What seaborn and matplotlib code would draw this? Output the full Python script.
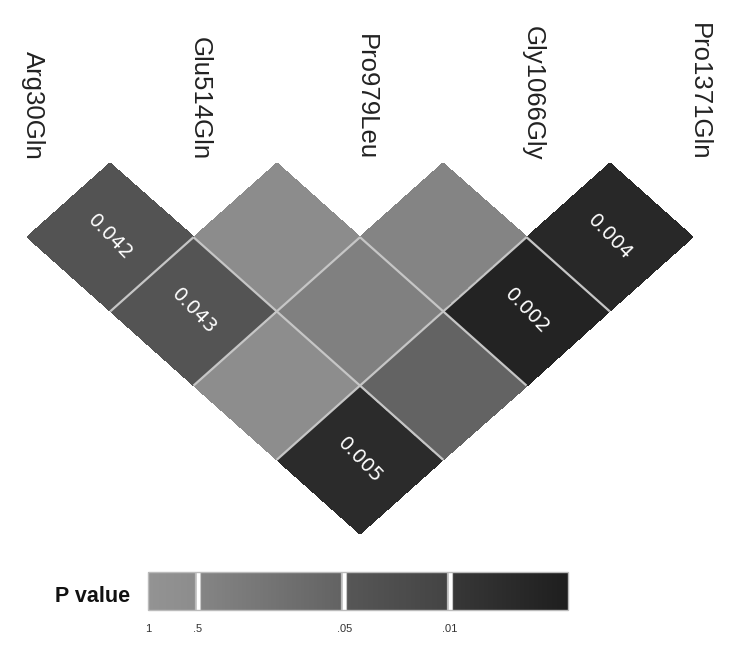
import numpy as np
import pandas as pd
import matplotlib
matplotlib.use('Agg')
import matplotlib.pyplot as plt
import matplotlib.transforms as mtransforms
from matplotlib.colors import LinearSegmentedColormap
import seaborn as sns

# SNP names and pairwise p-values
snps = ["Arg30Gln", "Glu514Gln", "Pro979Leu", "Gly1066Gly", "Pro1371Gln"]
snp_a = [0, 1, 2, 3, 0, 1, 2, 0, 1, 0]
snp_b = [1, 2, 3, 4, 2, 3, 4, 3, 4, 4]
p_vals = [0.042, 0.51, 0.48, 0.004, 0.043, 0.43, 0.002, 0.55, 0.06, 0.005]

# colour scale breaks (p) and their place on the legend bar
p_breaks = [0, 0.01, 0.05, 0.5, 1]
bar_pos = [1, 0.719, 0.467, 0.119, 0]
break_labels = [".01", ".05", ".5", "1"]

sns.set_style("white")
plt.rcParams['font.family'] = ['Liberation Sans', 'DejaVu Sans']

# position of each p on the legend bar (0..1)
df = pd.DataFrame({"a": snp_a, "b": snp_b, "p": p_vals})
df["t"] = np.interp(df["p"], p_breaks, bar_pos)
mat = df.pivot(index="a", columns="b", values="t")
txt = df.assign(s=[f"{p:.3f}" if p < 0.05 else "" for p in p_vals]).pivot(index="a", columns="b", values="s")
mask = mat.isna()
txt = txt.fillna("")

# grey ramp, with a jump at each break
g = lambda h: h / 255
levels = [(0.0, g(0x93), g(0x93)),
          (0.119, g(0x8c), g(0x85)),
          (0.467, g(0x62), g(0x57)),
          (0.719, g(0x43), g(0x38)),
          (1.0, g(0x1e), g(0x1e))]
cmap = LinearSegmentedColormap("pval", {"red": levels, "green": levels, "blue": levels})

fig = plt.figure(figsize=(7.4, 6.5), dpi=100)
ax = fig.add_axes([27 / 740, 1 - 534 / 650, 666 / 740, 371 / 650])
cax = fig.add_axes([148 / 740, 1 - 610 / 650, 420 / 740, 38 / 650])

sns.heatmap(mat, mask=mask, cmap=cmap, vmin=0, vmax=1, annot=txt, fmt="",
            annot_kws={"color": "white", "fontsize": 14, "family": "DejaVu Sans"},
            linewidths=0, xticklabels=False, yticklabels=False,
            cbar_ax=cax, cbar_kws={"orientation": "horizontal"}, ax=ax)

# turn the square grid 45 degrees: cell (col, row) -> diamond under the two SNPs
rot = mtransforms.Affine2D(np.array([[0.5, 0.5, 0.0],
                                     [-0.5, 0.5, -0.5],
                                     [0, 0, 1]]))
tr = rot + ax.transData
mesh = ax.collections[0]
mesh.set_transform(tr)
for t in ax.texts:
    t.set_transform(tr)
    t.set_rotation(-46)
    t.set_rotation_mode("anchor")

# inner cell borders only
n = len(snps) - 1
inner = np.arange(1, n)
ax.vlines(inner, 0, inner, color="#c6c6c6", lw=1.6, transform=tr)
ax.hlines(inner, inner, n, color="#c6c6c6", lw=1.6, transform=tr)

ax.set_xlim(0, n)
ax.set_ylim(-2.5, 0)
ax.set_xlabel("")
ax.set_ylabel("")
ax.axis("off")

for k, name in enumerate(snps):
    ax.text(k + 0.035, 0.02, name, rotation=270, ha="center", va="bottom",
            fontsize=18.5, color="#222222")

# legend bar
cbar = mesh.colorbar
cbar.outline.set_edgecolor("#bbbbbb")
cbar.outline.set_linewidth(1)
cbar.set_ticks(bar_pos[1:])
cbar.set_ticklabels(break_labels)
cax.tick_params(length=0, labelsize=8, labelcolor="#333333", pad=10)
for b in bar_pos[1:4]:
    cax.axvline(b, color="#bbbbbb", lw=4.5)
    cax.axvline(b, color="white", lw=2.5)

fig.text(130 / 740, 1 - 597 / 650, "P value", ha="right", va="center",
         fontsize=15.5, fontweight="bold", color="#111111")

fig.savefig("out.png", dpi=100)
